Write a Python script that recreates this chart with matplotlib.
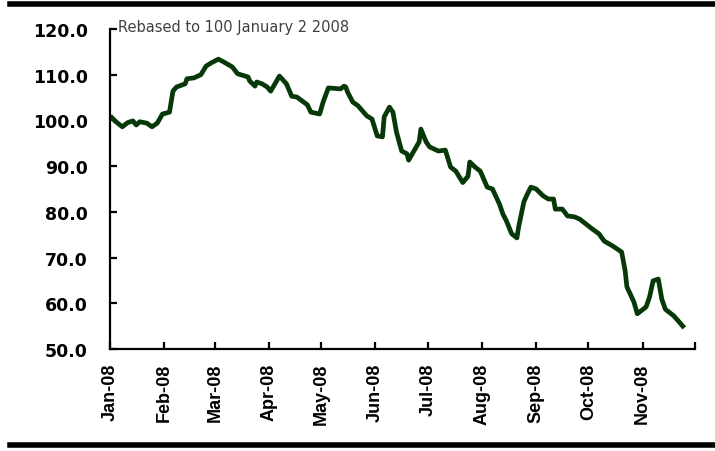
import matplotlib
matplotlib.use("Agg")
import matplotlib.pyplot as plt
from datetime import datetime

# Index values (rebased to 100 on Jan 2 2008)
dates = [
    "2008-01-02", "2008-01-04", "2008-01-08", "2008-01-11", "2008-01-14", "2008-01-16",
    "2008-01-18", "2008-01-22", "2008-01-25", "2008-01-28", "2008-01-31", "2008-02-04",
    "2008-02-06", "2008-02-08", "2008-02-13", "2008-02-14", "2008-02-18", "2008-02-22",
    "2008-02-25", "2008-02-28", "2008-03-03", "2008-03-06", "2008-03-11", "2008-03-14",
    "2008-03-20", "2008-03-21", "2008-03-24", "2008-03-25", "2008-03-28", "2008-03-31",
    "2008-04-02", "2008-04-07", "2008-04-11", "2008-04-14", "2008-04-17", "2008-04-23",
    "2008-04-25", "2008-04-30", "2008-05-02", "2008-05-05", "2008-05-12", "2008-05-14",
    "2008-05-15", "2008-05-16", "2008-05-19", "2008-05-22", "2008-05-27", "2008-05-30",
    "2008-06-02", "2008-06-05", "2008-06-06", "2008-06-09", "2008-06-11", "2008-06-13",
    "2008-06-16", "2008-06-19", "2008-06-20", "2008-06-23", "2008-06-26", "2008-06-27",
    "2008-06-30", "2008-07-02", "2008-07-07", "2008-07-11", "2008-07-14", "2008-07-17",
    "2008-07-21", "2008-07-24", "2008-07-25", "2008-07-28", "2008-07-31", "2008-08-04",
    "2008-08-07", "2008-08-11", "2008-08-13", "2008-08-15", "2008-08-18", "2008-08-21",
    "2008-08-22", "2008-08-25", "2008-08-27", "2008-08-29", "2008-09-01", "2008-09-05",
    "2008-09-08", "2008-09-11", "2008-09-12", "2008-09-16", "2008-09-19", "2008-09-23",
    "2008-09-26", "2008-10-01", "2008-10-03", "2008-10-07", "2008-10-10", "2008-10-15",
    "2008-10-20", "2008-10-22", "2008-10-23", "2008-10-27", "2008-10-29", "2008-11-03",
    "2008-11-05", "2008-11-07", "2008-11-10", "2008-11-12", "2008-11-14", "2008-11-19",
    "2008-11-24",
]
values = [
    100.6, 99.8, 98.6, 99.5, 99.9, 99.0,
    99.7, 99.4, 98.6, 99.4, 101.4, 101.8,
    106.4, 107.3, 108.0, 109.1, 109.3, 110.0,
    111.9, 112.6, 113.4, 112.8, 111.7, 110.2,
    109.5, 108.6, 107.5, 108.4, 108.0, 107.3,
    106.4, 109.7, 108.0, 105.3, 105.1, 103.4,
    101.8, 101.4, 104.0, 107.1, 106.9, 107.5,
    107.3, 106.2, 104.0, 103.2, 101.0, 100.3,
    96.6, 96.4, 100.8, 102.9, 101.8, 97.5,
    93.3, 92.7, 91.3, 93.3, 95.3, 98.1,
    95.3, 94.2, 93.3, 93.5, 89.8, 88.9,
    86.4, 87.8, 90.9, 89.8, 88.9, 85.4,
    85.0, 81.7, 79.5, 78.0, 75.2, 74.3,
    76.7, 82.2, 83.9, 85.4, 85.0, 83.5,
    82.8, 82.8, 80.6, 80.6, 79.1, 78.9,
    78.4, 76.9, 76.3, 75.2, 73.6, 72.5,
    71.2, 67.1, 63.6, 60.3, 57.7, 59.2,
    61.4, 64.9, 65.3, 60.9, 58.7, 57.2,
    55.0,
]
month_labels = ["Jan-08", "Feb-08", "Mar-08", "Apr-08", "May-08", "Jun-08",
                "Jul-08", "Aug-08", "Sep-08", "Oct-08", "Nov-08"]
y_ticks = [50, 60, 70, 80, 90, 100, 110, 120]
note = "Rebased to 100 January 2 2008"


def main():
    x = [datetime.strptime(d, "%Y-%m-%d") for d in dates]

    fig = plt.figure(figsize=(7.15, 4.52), dpi=100)
    ax = fig.add_axes([0.154, 0.2257, 0.818, 0.708])

    ax.plot(x, values, color="#073807", lw=3.4, solid_joinstyle="round")

    ax.set_xlim(datetime(2008, 1, 1), datetime(2008, 12, 1))
    ax.set_ylim(50, 120)

    month_ticks = [datetime(2008, m, 1) for m in range(1, 13)]
    ax.set_xticks(month_ticks)
    ax.set_xticklabels(month_labels + [""], rotation=90, fontsize=13,
                       fontweight="bold", family="Liberation Sans")
    ax.set_yticks(y_ticks)
    ax.set_yticklabels([f"{v:.1f}" for v in y_ticks], fontsize=12.5,
                       fontweight="bold", family="DejaVu Sans")

    for s in ["top", "right"]:
        ax.spines[s].set_visible(False)
    for s in ["left", "bottom"]:
        ax.spines[s].set_linewidth(1.6)
    ax.tick_params(axis="y", direction="in", length=5, width=1.6, pad=16)
    ax.tick_params(axis="x", direction="in", length=5, width=1.6, pad=10)

    ax.text(0.014, 1.008, note, transform=ax.transAxes, fontsize=10.5,
            color="#404040", va="center", ha="left")

    # thick rules at top and bottom of the figure
    fig.add_artist(plt.Line2D([0.014, 1.0], [0.988, 0.988], color="black", lw=4,
                              transform=fig.transFigure))
    fig.add_artist(plt.Line2D([0.014, 1.0], [0.013, 0.013], color="black", lw=4,
                              transform=fig.transFigure))

    fig.savefig("out.png", dpi=100)


if __name__ == "__main__":
    main()
